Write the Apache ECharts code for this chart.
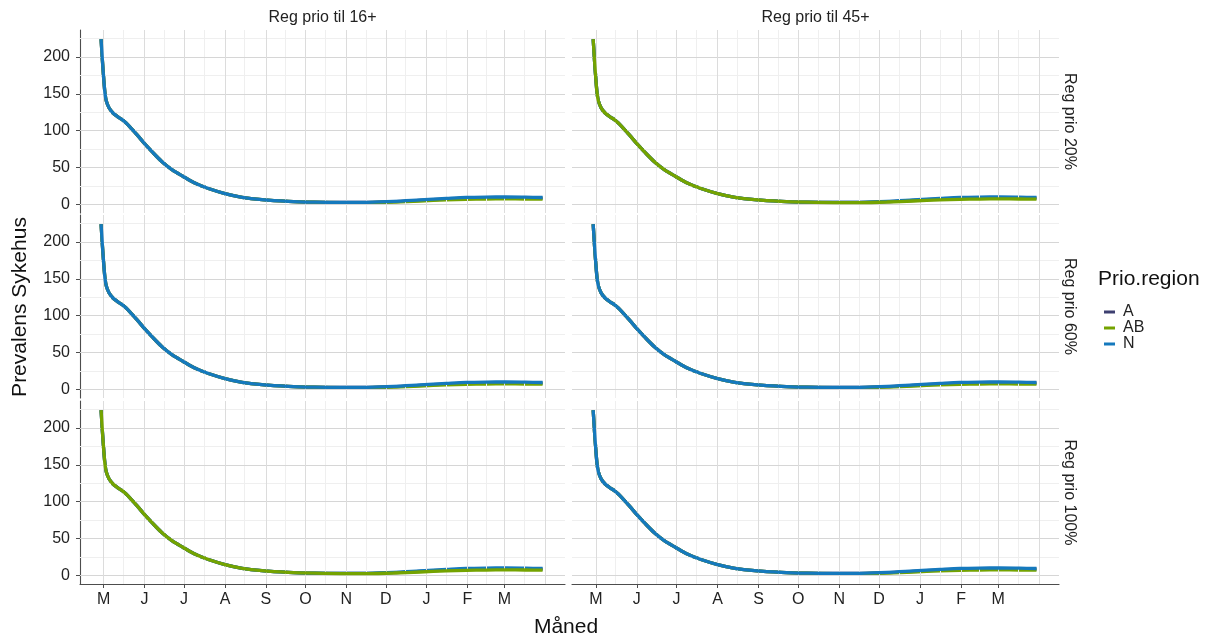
<!DOCTYPE html>
<html>
<head>
<meta charset="utf-8">
<script src="https://cdn.jsdelivr.net/npm/echarts@6/dist/echarts.min.js"></script>
<style>
html,body{margin:0;padding:0;background:#fff;}
#chart{width:1212px;height:641px;}
</style>
</head>
<body>
<div id="chart"></div>
<script>
// ---- data (days relative to 1 May) ----
const days   = [-2, -1, 0, 1, 2, 4, 7, 11, 14, 17, 20, 23, 26, 31, 37, 44, 52, 60, 70, 80, 92, 105, 120, 140, 160, 180, 200, 220, 240, 260, 275, 290, 305, 320, 333];
const valsN  = [224, 195, 170, 150, 140, 131, 124, 118.5, 115, 110.5, 105, 99, 93, 82.5, 71, 58.5, 47, 38.5, 28.5, 21.5, 15, 10, 6.8, 4.5, 3.4, 3.0, 3.2, 4.4, 6.4, 8.4, 9.8, 10.3, 10.4, 10.1, 9.7];
const valsA  = [224, 195, 170, 150, 140, 131, 124, 118.5, 115, 110.5, 105, 99, 93, 82.5, 71, 58.5, 47, 38.5, 28.5, 21.5, 15, 10, 6.8, 4.5, 3.4, 3.0, 3.1, 4.1, 5.9, 7.6, 8.7, 9.2, 9.3, 9.1, 8.8];
const valsAB = [224, 195, 170, 150, 140, 131, 124, 118.5, 115, 110.5, 105, 99, 93, 82.5, 71, 58.5, 47, 38.5, 28.5, 21.5, 15, 10, 6.8, 4.5, 3.4, 2.9, 2.9, 3.6, 5.0, 6.4, 7.2, 7.6, 7.8, 7.7, 7.5];

const monthLabels = ['M','J','J','A','S','O','N','D','J','F','M'];
const monthStarts = [0, 31, 61, 92, 123, 153, 184, 214, 245, 276, 304];
const extraMajor  = [335];
const midMonths   = [15, 46, 76, 107, 138, 168, 199, 229, 260, 290, 319];
const yTicks      = [0, 50, 100, 150, 200];
const yMinor      = [25, 75, 125, 175, 225];

const colTitles = ['Reg prio til 16+', 'Reg prio til 45+'];
const rowTitles = ['Reg prio 20%', 'Reg prio 60%', 'Reg prio 100%'];
const seriesNames = ['A', 'AB', 'N'];
const seriesVals  = {A: valsA, AB: valsAB, N: valsN};
const seriesColors = {A: '#3d3f70', AB: '#74a300', N: '#1579bd'};
// drawing order per panel (last drawn on top)
const panelOrder = [
  ['A','AB','N'], ['A','N','AB'],
  ['A','AB','N'], ['A','AB','N'],
  ['A','N','AB'], ['A','AB','N']
];

// ---- layout ----
const gridLefts = [80, 572];
const gridWidths = [485, 487];
const gridTops = [30, 215, 401];
const gridHeight = 183;

const FONT = 'Liberation Sans, Arial, Helvetica, sans-serif';

const grids = [], xAxes = [], yAxes = [], series = [];
for (let i = 0; i < 6; i++) {
  const row = Math.floor(i / 2), col = i % 2;
  grids.push({left: gridLefts[col], width: gridWidths[col], top: gridTops[row], height: gridHeight, containLabel: false});
  const bottom = row === 2;
  xAxes.push({
    gridIndex: i, type: 'value', min: -18, max: 350,
    splitLine: {show: false},
    axisLine: {show: bottom, onZero: false, lineStyle: {color: '#4d4d4d', width: 1.1}},
    axisTick: {show: bottom, customValues: monthStarts, length: 4, lineStyle: {color: '#4d4d4d'}},
    axisLabel: {show: bottom, customValues: monthStarts, margin: 8, color: '#222', fontSize: 16, fontFamily: FONT,
      formatter: v => monthLabels[monthStarts.indexOf(v)] || ''}
  });
  const left = col === 0;
  yAxes.push({
    gridIndex: i, type: 'value', min: -11.25, max: 236.25,
    splitLine: {show: false},
    axisLine: {show: left, onZero: false, lineStyle: {color: '#4d4d4d', width: 1.1}},
    axisTick: {show: left, customValues: yTicks, length: 4, lineStyle: {color: '#4d4d4d'}},
    axisLabel: {show: left, customValues: yTicks, margin: 10, color: '#222', fontSize: 16, fontFamily: FONT}
  });
  // gridlines
  const ml = [];
  yMinor.forEach(v => ml.push({yAxis: v, lineStyle: {color: '#efefef', width: 1, type: 'solid'}}));
  midMonths.forEach(v => ml.push({xAxis: v, lineStyle: {color: '#efefef', width: 1, type: 'solid'}}));
  yTicks.forEach(v => ml.push({yAxis: v, lineStyle: {color: '#d6d6d6', width: 1, type: 'solid'}}));
  monthStarts.concat(extraMajor).forEach(v => ml.push({xAxis: v, lineStyle: {color: '#dcdcdc', width: 1, type: 'solid'}}));
  series.push({
    type: 'line', xAxisIndex: i, yAxisIndex: i, data: [], silent: true, z: 1,
    markLine: {silent: true, symbol: ['none','none'], label: {show: false}, animation: false, data: ml}
  });
  panelOrder[i].forEach((name, k) => {
    const vals = seriesVals[name];
    series.push({
      name: name, type: 'line', xAxisIndex: i, yAxisIndex: i,
      data: days.map((d, j) => [d, vals[j]]),
      showSymbol: false, symbol: 'none', smooth: 0.3,
      lineStyle: {color: seriesColors[name], width: 3.3},
      itemStyle: {color: seriesColors[name]},
      z: 3 + k, animation: false
    });
  });
}

const graphics = [];
colTitles.forEach((t, c) => graphics.push({
  type: 'text', x: gridLefts[c] + gridWidths[c] / 2, y: 18,
  style: {text: t, fontSize: 16, fontFamily: FONT, fill: '#222', textAlign: 'center', textVerticalAlign: 'middle'}
}));
rowTitles.forEach((t, r) => graphics.push({
  type: 'text', x: 1069, y: gridTops[r] + gridHeight / 2, rotation: -Math.PI / 2,
  style: {text: t, fontSize: 16, fontFamily: FONT, fill: '#222', textAlign: 'center', textVerticalAlign: 'middle'}
}));
graphics.push({
  type: 'text', x: 20, y: 307, rotation: Math.PI / 2,
  style: {text: 'Prevalens Sykehus', fontSize: 21, fontFamily: FONT, fill: '#111', textAlign: 'center', textVerticalAlign: 'middle'}
});
graphics.push({
  type: 'text', x: 566, y: 627,
  style: {text: 'Måned', fontSize: 21, fontFamily: FONT, fill: '#111', textAlign: 'center', textVerticalAlign: 'middle'}
});
graphics.push({
  type: 'text', x: 1098, y: 279,
  style: {text: 'Prio.region', fontSize: 21, fontFamily: FONT, fill: '#111', textAlign: 'left', textVerticalAlign: 'middle'}
});

const chart = echarts.init(document.getElementById('chart'), null, {renderer: 'canvas'});
chart.setOption({
  animation: false,
  backgroundColor: '#ffffff',
  grid: grids,
  xAxis: xAxes,
  yAxis: yAxes,
  series: series,
  legend: {
    data: seriesNames, orient: 'vertical', left: 1099, top: 299,
    icon: 'rect', itemWidth: 11, itemHeight: 3, itemGap: 0,
    textStyle: {fontSize: 16, fontFamily: FONT, color: '#222', lineHeight: 15, padding: [0, 0, 0, 3]},
    selectedMode: false
  },
  graphic: graphics
});
</script>
</body>
</html>
